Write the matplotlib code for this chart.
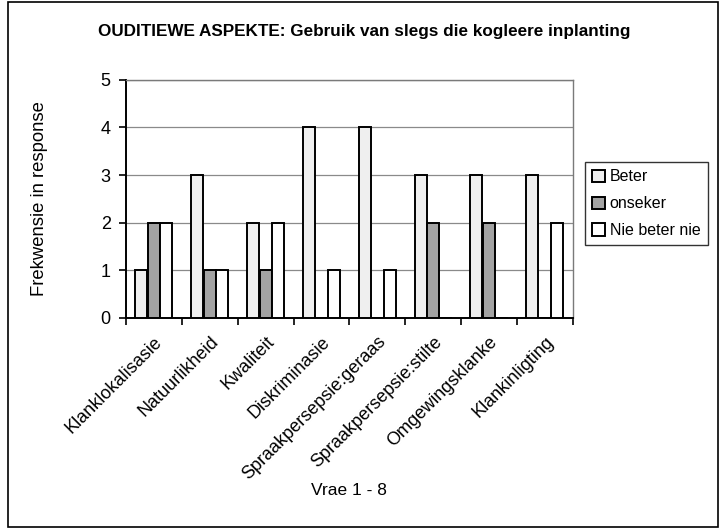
import numpy as np
import matplotlib
matplotlib.use("Agg")
import matplotlib.pyplot as plt
from matplotlib.patches import Rectangle

plt.rcParams['font.family'] = ['Liberation Sans', 'DejaVu Sans']

# data
categories = ["Klanklokalisasie", "Natuurlikheid", "Kwaliteit", "Diskriminasie",
              "Spraakpersepsie:geraas", "Spraakpersepsie:stilte", "Omgewingsklanke",
              "Klankinligting"]
beter = [1, 3, 2, 4, 4, 3, 3, 3]
onseker = [2, 1, 1, 0, 0, 2, 2, 0]
nie_beter_nie = [2, 1, 2, 1, 1, 0, 0, 2]
series_names = ["Beter", "onseker", "Nie beter nie"]
yticks = [0, 1, 2, 3, 4, 5]

fig = plt.figure(figsize=(7.25, 5.29), dpi=100)
ax = fig.add_axes([0.1738, 0.399, 0.6162, 0.450])

x = np.arange(len(categories))
w = 0.215
styles = [
    dict(facecolor='#efefef'),
    dict(facecolor='#a3a3a3'),
    dict(facecolor='white'),
]
for off, vals, name, st in zip([-0.225, 0.0, 0.225],
                               [beter, onseker, nie_beter_nie],
                               series_names, styles):
    ax.bar(x + off, vals, w, label=name, edgecolor='black', linewidth=1.4,
           zorder=3, **st)

ax.set_xlim(-0.5, len(categories) - 0.5)
ax.set_ylim(0, 5)
ax.set_yticks(yticks)
ax.set_yticklabels([str(t) for t in yticks], fontsize=13)
ax.yaxis.grid(True, color='#8a8a8a', linewidth=0.9, zorder=0)
ax.set_axisbelow(True)

# category ticks on the boundaries, labels on the centres
ax.set_xticks(np.arange(len(categories) + 1) - 0.5)
ax.set_xticklabels([])
ax.set_xticks(x, minor=True)
ax.set_xticklabels(categories, minor=True, rotation=45, ha='right',
                   rotation_mode='anchor', fontsize=13)
ax.tick_params(axis='x', which='minor', length=0, pad=11)
ax.tick_params(axis='x', which='major', direction='out', length=5, width=1.2)
ax.tick_params(axis='y', direction='out', length=5, width=1.2, pad=6)

for side in ['left', 'bottom']:
    ax.spines[side].set_linewidth(1.4)
    ax.spines[side].set_color('black')
for side in ['top', 'right']:
    ax.spines[side].set_linewidth(1.0)
    ax.spines[side].set_color('#7a7a7a')

ax.set_ylabel("Frekwensie in response", fontsize=13.3, labelpad=38)
ax.set_xlabel("Vrae 1 - 8", fontsize=12.5)
ax.xaxis.set_label_coords(0.5, -0.695)

fig.text(0.503, 0.94, "OUDITIEWE ASPEKTE: Gebruik van slegs die kogleere inplanting",
         ha='center', va='center', fontsize=12.3, fontweight='bold')

leg = ax.legend(loc='center left', bbox_to_anchor=(1.027, 0.48), fontsize=11.5,
                frameon=True, fancybox=False, edgecolor='black',
                handlelength=0.8, handleheight=0.8, handletextpad=0.3,
                labelspacing=0.75, borderpad=0.45, borderaxespad=0)
leg.get_frame().set_linewidth(1.0)

# outer chart border
fig.add_artist(Rectangle((0.011, 0.004), 0.979, 0.992, transform=fig.transFigure,
                         fill=False, edgecolor='black', linewidth=1.2))

fig.savefig("out.png", dpi=100)
